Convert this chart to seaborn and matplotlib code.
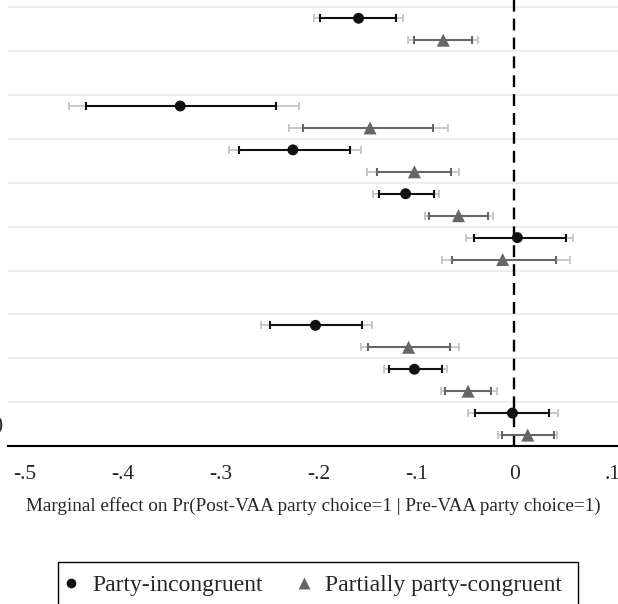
import pandas as pd
import numpy as np
import matplotlib
matplotlib.use("Agg")
import matplotlib.pyplot as plt
from matplotlib.lines import Line2D
from matplotlib.patches import Rectangle
import seaborn as sns

# -------------------------------
# Data
# -------------------------------
circle_rows = [0, 2, 3, 4, 5, 7, 8, 9]
circle_est = [-0.159, -0.341, -0.226, -0.111, 0.003, -0.203, -0.102, -0.002]
circle_lo90 = [-0.198, -0.4375, -0.281, -0.138, -0.0415, -0.249, -0.128, -0.040]
circle_hi90 = [-0.121, -0.243, -0.168, -0.082, 0.0527, -0.155, -0.074, 0.035]
circle_lo95 = [-0.2045, -0.454, -0.291, -0.144, -0.0497, -0.2586, -0.133, -0.047]
circle_hi95 = [-0.114, -0.220, -0.157, -0.077, 0.0595, -0.1453, -0.069, 0.044]

tri_rows = [0, 2, 3, 4, 5, 7, 8, 9]
tri_est = [-0.0726, -0.1473, -0.102, -0.057, -0.012, -0.108, -0.0473, 0.0136]
tri_lo90 = [-0.102, -0.2154, -0.140, -0.087, -0.064, -0.1497, -0.0711, -0.0127]
tri_hi90 = [-0.043, -0.0828, -0.065, -0.0266, 0.0424, -0.0654, -0.0236, 0.040]
tri_lo95 = [-0.1086, -0.230, -0.150, -0.091, -0.0739, -0.1565, -0.0752, -0.017]
tri_hi95 = [-0.0375, -0.068, -0.057, -0.0215, 0.0567, -0.0565, -0.018, 0.0435]

group_names = ["Party-incongruent", "Partially party-congruent"]
x_ticks = [-0.5, -0.4, -0.3, -0.2, -0.1, 0.0, 0.1]
x_ticklabels = ["-.5", "-.4", "-.3", "-.2", "-.1", "0", ".1"]
grid_rows = list(range(10))

# build a long table for seaborn
df = pd.DataFrame({
    "est": circle_est + tri_est,
    "ypos": [r + 0.25 for r in circle_rows] + [r + 0.75 for r in tri_rows],
    "group": [group_names[0]] * len(circle_est) + [group_names[1]] * len(tri_est),
})

sns.set_style("white")
plt.rcParams["font.family"] = ["Liberation Serif", "DejaVu Serif"]

fig = plt.figure(figsize=(6.18, 6.04), dpi=100)
ax = fig.add_axes([8 / 618, 1 - 446 / 604, 610 / 618, 446 / 604])

# horizontal separators
for g in grid_rows:
    ax.axhline(g, color="#ececec", lw=1.3, zorder=0)

# reference line at zero
ax.axvline(0, color="black", lw=1.7, ls=(0, (5, 3)), zorder=1)

# confidence intervals: wide (light) then narrow (dark)
colors = ["#111111", "#666666"]
ypos_c = [r + 0.25 for r in circle_rows]
ypos_t = [r + 0.75 for r in tri_rows]
for yp, est, lo95, hi95, lo90, hi90, col in [
    (ypos_c, circle_est, circle_lo95, circle_hi95, circle_lo90, circle_hi90, colors[0]),
    (ypos_t, tri_est, tri_lo95, tri_hi95, tri_lo90, tri_hi90, colors[1]),
]:
    est = np.array(est)
    ax.errorbar(est, yp, xerr=[est - np.array(lo95), np.array(hi95) - est],
                fmt="none", ecolor="#c4c4c4", elinewidth=1.3, capsize=2.8,
                capthick=1.3, zorder=2)
    ax.errorbar(est, yp, xerr=[est - np.array(lo90), np.array(hi90) - est],
                fmt="none", ecolor=col, elinewidth=1.5, capsize=2.8,
                capthick=1.5, zorder=3)

sns.scatterplot(data=df, x="est", y="ypos", hue="group", style="group", size="group",
                palette=dict(zip(group_names, colors)),
                markers=dict(zip(group_names, ["o", "^"])),
                sizes=dict(zip(group_names, [62, 88])),
                edgecolor="none", legend=False, ax=ax, zorder=4)

ax.set_xlim(-0.5167, 0.1057)
ax.set_ylim(10, -0.166)
ax.set_xticks(x_ticks)
ax.set_xticklabels(x_ticklabels, fontsize=15.5)
ax.set_yticks([])
ax.set_ylabel("")
ax.set_xlabel("Marginal effect on Pr(Post-VAA party choice=1 | Pre-VAA party choice=1)",
              fontsize=13.75, labelpad=9)
ax.tick_params(axis="x", direction="out", length=8, width=1.1, color="black", pad=6)
for s in ["left", "right", "top"]:
    ax.spines[s].set_visible(False)
ax.spines["bottom"].set_color("black")
ax.spines["bottom"].set_linewidth(1.5)

# cropped category label on the far left
fig.text(3 / 618, 1 - 426 / 604, ")", ha="right", va="center", fontsize=15.5)

# legend box (runs past the bottom edge, as in the reference)
fig.patches.append(Rectangle((58 / 618, -0.05), 520 / 618, (604 - 562) / 604 + 0.05,
                             transform=fig.transFigure, fill=False,
                             edgecolor="black", lw=1.0))
handles = [
    Line2D([], [], marker="o", color="none", markerfacecolor=colors[0],
           markeredgecolor="none", markersize=7),
    Line2D([], [], marker="^", color="none", markerfacecolor=colors[1],
           markeredgecolor="none", markersize=8),
]
fig.legend(handles, group_names, loc="center left",
           bbox_to_anchor=(61.6 / 618, 1 - 585 / 604), ncol=2, fontsize=17,
           frameon=False, borderaxespad=0, borderpad=0,
           handlelength=0.8, handletextpad=0.49, columnspacing=1.36)

plt.savefig("out.png", dpi=100)
